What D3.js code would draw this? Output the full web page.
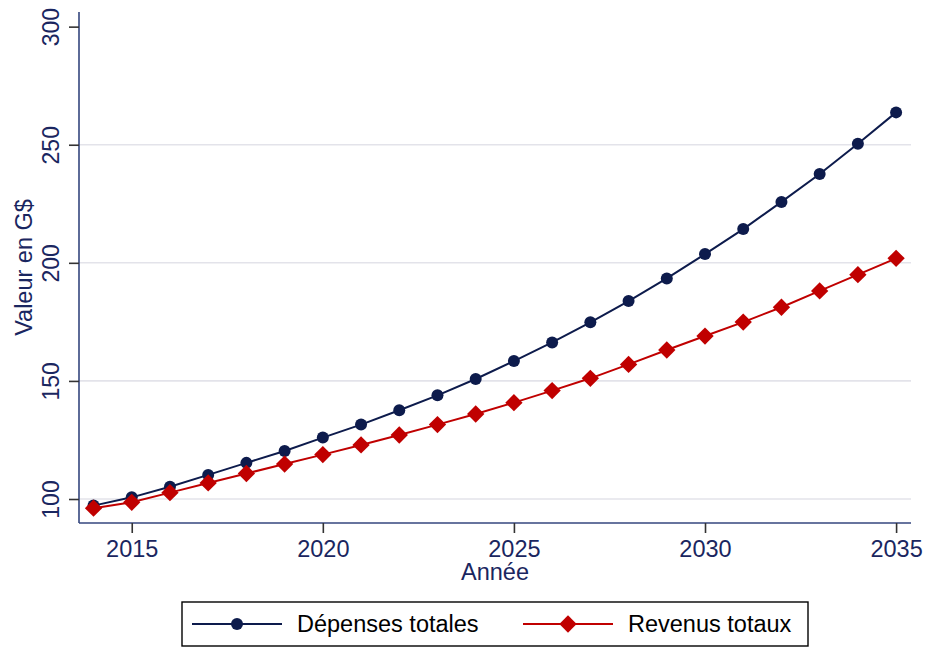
<!DOCTYPE html>
<html>
<head>
<meta charset="utf-8">
<script src="https://cdn.jsdelivr.net/npm/d3@7"></script>
<style>
  html, body { margin: 0; padding: 0; background: #fff; }
  svg { display: block; font-family: "Liberation Sans", Arial, sans-serif; }
</style>
</head>
<body>
<svg id="chart" width="927" height="647"></svg>
<script>
// Projection des finances publiques, 2014-2035
const annees = d3.range(2014, 2036);
const depensesTotales = [97.2, 100.7, 105.2, 110.2, 115.3, 120.3, 126.0, 131.5, 137.6, 143.9, 150.8,
                         158.4, 166.3, 174.8, 183.8, 193.4, 203.7, 214.3, 225.8, 237.6, 250.4, 263.7];
const revenusTotaux = [96.1, 98.6, 102.7, 106.8, 110.8, 114.8, 118.8, 122.9, 127.1, 131.5, 136.0,
                       140.8, 145.9, 151.1, 157.0, 163.1, 169.0, 174.9, 181.2, 188.1, 195.0, 201.9];
const xTicks = [2015, 2020, 2025, 2030, 2035];
const yTicks = [100, 150, 200, 250, 300];
const gridValues = [100, 150, 200, 250];
const seriesNames = ["Dépenses totales", "Revenus totaux"];

const navy = "#0d1b4c";
const red = "#c00000";
const textColor = "#1a2660";
const axisColor = "#34467e";

const svg = d3.select("#chart");
const plot = { left: 79, right: 911, top: 12, bottom: 523 };

const x = d3.scaleLinear().domain([2013.62, 2035.39]).range([plot.left, plot.right]);
const y = d3.scaleLinear().domain([89.84, 306.2]).range([plot.bottom, plot.top]);

// horizontal grid lines
svg.append("g").selectAll("line").data(gridValues).join("line")
  .attr("x1", plot.left).attr("x2", plot.right)
  .attr("y1", d => y(d)).attr("y2", d => y(d))
  .attr("stroke", "#e3e3ea").attr("stroke-width", 1.6);

// y axis
const yAxis = svg.append("g").attr("transform", `translate(${plot.left},0)`)
  .call(d3.axisLeft(y).tickValues(yTicks).tickSize(10).tickPadding(0).tickFormat(d3.format("d")));
yAxis.select(".domain").attr("d", `M0,${plot.top}V${plot.bottom}`).attr("stroke", axisColor).attr("stroke-width", 1.6);
yAxis.selectAll(".tick line").attr("stroke", "#333").attr("stroke-width", 1.6);
yAxis.selectAll(".tick text")
  .attr("transform", "rotate(-90)")
  .attr("x", 0).attr("y", -20).attr("dy", 0)
  .attr("text-anchor", "middle")
  .attr("fill", textColor).style("font-size", "23px");

// x axis
const xAxis = svg.append("g").attr("transform", `translate(0,${plot.bottom})`)
  .call(d3.axisBottom(x).tickValues(xTicks).tickSize(10).tickPadding(0).tickFormat(d3.format("d")));
xAxis.select(".domain").attr("d", `M${plot.left},0H${plot.right}`).attr("stroke", axisColor).attr("stroke-width", 1.6);
xAxis.selectAll(".tick line").attr("stroke", "#333").attr("stroke-width", 1.6);
xAxis.selectAll(".tick text")
  .attr("y", 34).attr("dy", 0)
  .attr("fill", textColor).style("font-size", "23.5px");

// axis titles
svg.append("text")
  .attr("x", (plot.left + plot.right) / 2).attr("y", 580)
  .attr("text-anchor", "middle").attr("fill", textColor).style("font-size", "23.5px")
  .text("Année");
svg.append("text")
  .attr("transform", `translate(32,${(plot.top + plot.bottom) / 2}) rotate(-90)`)
  .attr("text-anchor", "middle").attr("fill", textColor).style("font-size", "23.5px")
  .text("Valeur en G$");

// series
const line = d3.line().x((d, i) => x(annees[i])).y(d => y(d));
const diamond = d3.symbol().type(d3.symbolSquare).size(150);

svg.append("path").datum(revenusTotaux).attr("d", line)
  .attr("fill", "none").attr("stroke", red).attr("stroke-width", 2);
svg.append("path").datum(depensesTotales).attr("d", line)
  .attr("fill", "none").attr("stroke", navy).attr("stroke-width", 2);

svg.append("g").selectAll("circle").data(depensesTotales).join("circle")
  .attr("cx", (d, i) => x(annees[i])).attr("cy", d => y(d)).attr("r", 6)
  .attr("fill", navy);
svg.append("g").selectAll("path").data(revenusTotaux).join("path")
  .attr("d", diamond)
  .attr("transform", (d, i) => `translate(${x(annees[i])},${y(d)}) rotate(45)`)
  .attr("fill", red);

// legend
const legend = svg.append("g");
legend.append("rect").attr("x", 182).attr("y", 602).attr("width", 626).attr("height", 44)
  .attr("fill", "#fff").attr("stroke", "#000").attr("stroke-width", 1.4);

const items = [
  { name: seriesNames[0], color: navy, x0: 192, x1: 282, text: 297, marker: "circle" },
  { name: seriesNames[1], color: red, x0: 523, x1: 613, text: 628, marker: "diamond" }
];
items.forEach(it => {
  const ly = 624;
  legend.append("line").attr("x1", it.x0).attr("x2", it.x1).attr("y1", ly).attr("y2", ly)
    .attr("stroke", it.color).attr("stroke-width", 2);
  const mx = (it.x0 + it.x1) / 2;
  if (it.marker === "circle") {
    legend.append("circle").attr("cx", mx).attr("cy", ly).attr("r", 6).attr("fill", it.color);
  } else {
    legend.append("path").attr("d", diamond)
      .attr("transform", `translate(${mx},${ly}) rotate(45)`).attr("fill", it.color);
  }
  legend.append("text").attr("x", it.text).attr("y", 632)
    .attr("fill", "#000").style("font-size", "23.5px").text(it.name);
});
</script>
</body>
</html>
